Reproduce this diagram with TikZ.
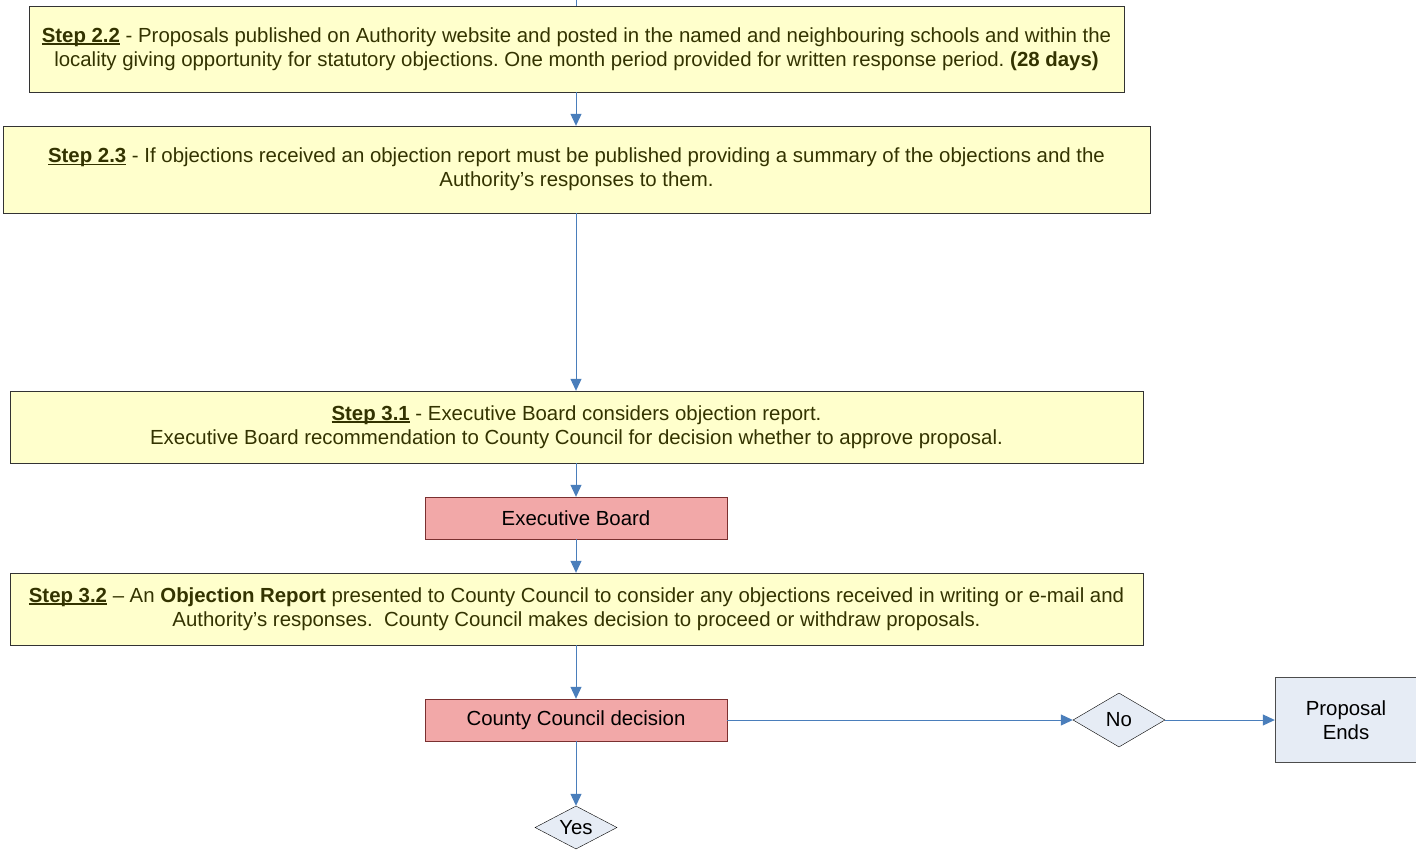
\documentclass[tikz,border=0pt]{standalone}
\usepackage{fontspec}
\setmainfont{Liberation Sans}
\usepackage{xcolor}
\usepackage{tikz}
\usetikzlibrary{arrows.meta,positioning,shapes.geometric}
\definecolor{stepfill}{HTML}{FFFFCC}
\definecolor{steptext}{HTML}{333300}
\definecolor{flowblue}{HTML}{4A7EBB}
\definecolor{boardfill}{HTML}{F2A8A8}
\definecolor{boardline}{HTML}{7A3030}
\definecolor{endfill}{HTML}{E6ECF5}
\newcommand{\stepno}[1]{\sbox0{\textbf{#1}}\rlap{\rule[-2.4pt]{\wd0}{1.2pt}}\usebox0}
\frenchspacing
\tikzset{
  stepbox/.style={draw=black!80, fill=stepfill, text=steptext, align=center, inner sep=0pt},
  board/.style={draw=boardline, fill=boardfill, align=center, minimum width=302pt, minimum height=42pt, inner sep=0pt},
  choice/.style={draw, diamond, aspect=2, fill=endfill, inner sep=0pt},
  endbox/.style={draw=black!70, fill=endfill, align=center, inner sep=0pt},
  arrow/.style={-{Triangle[length=12pt,width=11pt]}, flowblue, line width=1pt}
}

\begin{document}
\begin{tikzpicture}[x=1pt, y=-1pt, every node/.append style={font=\fontsize{20.4}{24}\selectfont}]
    \useasboundingbox (0,0) rectangle (1416,849);
    % Steps
    \coordinate (top) at (576,0);
    \node[stepbox, minimum width=1095pt, minimum height=86pt] (s22) at (576.5,49)
      {\stepno{Step 2.2} - Proposals published on Authority website and posted in the named and neighbouring schools and within the\\
       locality giving opportunity for statutory objections. One month period provided for written response period. \textbf{(28 days)}};
    \node[stepbox, minimum width=1147pt, minimum height=87pt] (s23) at (576.5,169.5)
      {\stepno{Step 2.3} - If objections received an objection report must be published providing a summary of the objections and the\\
       Authority’s responses to them.};
    \node[stepbox, minimum width=1133pt, minimum height=72pt] (s31) at (576.5,427)
      {\stepno{Step 3.1} - Executive Board considers objection report.\\
       Executive Board recommendation to County Council for decision whether to approve proposal.};
    \node[board] (exec) at (576,518) {Executive Board};
    \node[stepbox, minimum width=1133pt, minimum height=72pt] (s32) at (576.5,609)
      {\stepno{Step 3.2} -- An \textbf{Objection Report} presented to County Council to consider any objections received in writing or e-mail and\\
       Authority’s responses.~ County Council makes decision to proceed or withdraw proposals.};
    \node[board] (ccd) at (576,720) {County Council decision};
    % Outcomes
    \node[choice, minimum width=92pt, minimum height=54pt] (no) at (1119,720) {No};
    \node[endbox, minimum width=142pt, minimum height=85pt] (ends) at (1346,720) {Proposal\\Ends};
    \node[choice, minimum width=82pt, minimum height=43pt] (yes) at (576,827.5) {Yes};
    % Connectors
    \draw[flowblue, line width=1pt] (top) -- (top |- s22.north);
    \draw[arrow] (top |- s22.south) -- (top |- s23.north);
    \draw[arrow] (top |- s23.south) -- (top |- s31.north);
    \draw[arrow] (top |- s31.south) -- (exec.north);
    \draw[arrow] (exec.south) -- (top |- s32.north);
    \draw[arrow] (top |- s32.south) -- (ccd.north);
    \draw[arrow] (ccd.east) -- (no.west);
    \draw[arrow] (no.east) -- (ends.west);
    \draw[arrow] (ccd.south) -- (yes.north);
\end{tikzpicture}
\end{document}
